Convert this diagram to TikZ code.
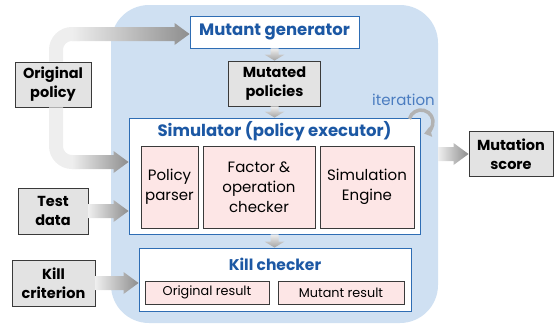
\documentclass[tikz,border=0pt]{standalone}
\usepackage{fontspec}
\setmainfont{Poppins}
\usetikzlibrary{calc,arrows.meta}

\definecolor{panelblue}{HTML}{CFE0F2}
\definecolor{edgeblue}{HTML}{2E6DB4}
\definecolor{titleblue}{HTML}{1C58A4}
\definecolor{iterblue}{HTML}{4A7CC0}
\definecolor{graybg}{HTML}{E3E3E3}
\definecolor{pinkbg}{HTML}{FDE6E6}
\definecolor{boxedge}{HTML}{3A3A3A}
\definecolor{arlight}{HTML}{EEEEEE}
\definecolor{ardark}{HTML}{8E8E8E}

\tikzset{
  graybox/.style={draw=boxedge, fill=graybg, line width=0.9pt, inner sep=0pt,
    align=center, text=black, font=\bfseries\fontsize{14.5}{19}\selectfont},
  bluebox/.style={draw=edgeblue, fill=white, line width=0.9pt, inner sep=0pt},
  pinkbox/.style={draw=boxedge, fill=pinkbg, line width=0.8pt, inner sep=0pt,
    align=center, text=black, font=\fontsize{15}{20}\selectfont},
  boxtitle/.style={text=titleblue, inner sep=0pt, font=\bfseries\fontsize{16.5}{18}\selectfont},
}

% horizontal block arrow, light at the tail and dark at the head
\newcommand\harrow[2]{%
  \path[left color=arlight, right color=ardark] let \p1=(#1), \p2=(#2) in
    (\x1,\y1+7pt) -- (\x2-15pt,\y1+7pt) -- (\x2-15pt,\y1+11pt) -- (\x2,\y1)
    -- (\x2-15pt,\y1-11pt) -- (\x2-15pt,\y1-7pt) -- (\x1,\y1-7pt) -- cycle;}
% small downward arrow between stacked boxes
\newcommand\varrow[2]{%
  \path[top color=arlight, bottom color=ardark!80] let \p1=(#1), \p2=(#2) in
    (\x1-4pt,\y1) -- (\x1-4pt,\y2+6pt) -- (\x1-10pt,\y2+6pt) -- (\x1,\y2)
    -- (\x1+10pt,\y2+6pt) -- (\x1+4pt,\y2+6pt) -- (\x1+4pt,\y1) -- cycle;}

\begin{document}
\begin{tikzpicture}[x=1pt, y=-1pt]
\useasboundingbox (0,0) rectangle (559,325);

% blue panel holding the test machinery
\node[fill=panelblue, rounded corners=38pt, inner sep=0pt,
      minimum width=327pt, minimum height=318pt] (panel) at (274.5,164) {};

% inputs and output
\node[graybox, minimum width=76pt, minimum height=45pt] (op) at (53,84.5) {Original\\policy};
\node[graybox, minimum width=70pt, minimum height=46pt] (td) at (53,211) {Test\\data};
\node[graybox, minimum width=83pt, minimum height=46pt] (kc) at (53.5,283) {Kill\\criterion};
\node[graybox, minimum width=84pt, minimum height=45pt] (ms) at (511,154) {Mutation\\score};

% mutant generation
\node[bluebox, minimum width=169pt, minimum height=32pt, boxtitle] (gen) at (274.5,32) {Mutant generator};
\node[graybox, minimum width=92pt, minimum height=45pt] (mut) at (274.5,83.5) {Mutated\\policies};

% simulator
\node[bluebox, minimum width=291pt, minimum height=116pt] (sim) at (274.5,176) {};
\node[boxtitle] (simt) at ($(sim.north)+(0,13.5)$) {Simulator (policy executor)};
\node[pinkbox, minimum width=57pt, minimum height=82pt] (pp) at (169.5,187) {Policy\\parser};
\node[pinkbox, minimum width=112pt, minimum height=82pt] (foc) at (259,187) {Factor \&\\operation\\checker};
\node[pinkbox, minimum width=94pt, minimum height=82pt] (se) at (367,187) {Simulation\\Engine};

% kill checker
\node[bluebox, minimum width=272pt, minimum height=63pt] (kill) at (275,279.5) {};
\node[boxtitle, font=\bfseries\fontsize{15.5}{18}\selectfont] (killt) at ($(kill.north)+(0,16.5)$) {Kill checker};
\node[pinkbox, font=\fontsize{12.8}{15}\selectfont, minimum width=124pt, minimum height=23pt] (orr) at (207,292.5) {Original result};
\node[pinkbox, font=\fontsize{12.8}{15}\selectfont, minimum width=126pt, minimum height=23pt] (mr) at (341,292.5) {Mutant result};

% original policy feeds both the generator and the simulator
\coordinate (optop) at ([xshift=3pt]op.north);
\coordinate (opbot) at ([xshift=3pt]op.south);
\coordinate (up) at (56,34);
\coordinate (dn) at (56,162);
\draw[line width=14pt, arlight, rounded corners=16pt] (optop) -- (up) -- (80,34);
\draw[line width=14pt, arlight, rounded corners=16pt] (opbot) -- (dn) -- (80,162);
\harrow{$(up)+(16,0)$}{gen.west |- up}
\harrow{$(dn)+(16,0)$}{sim.west |- dn}

% remaining inputs and the output
\harrow{td.east}{sim.west |- td.east}
\harrow{kc.east}{kill.west |- kc.east}
\harrow{panel.east |- ms.west}{ms.west}

% flow inside the panel
\varrow{gen.south}{gen.south |- mut.north}
\varrow{mut.south}{mut.south |- sim.north}
\varrow{sim.south}{sim.south |- kill.north}

% iteration loop
\node[text=iterblue, inner sep=0pt, font=\fontsize{15}{16}\selectfont] (itl) at (403.5,100) {iteration};
\coordinate (loopc) at (421,122);
\draw[line width=3.5pt, gray!60, -{Triangle[width=10pt,length=7pt]}]
  ($(loopc)+(-165:12)$) arc[start angle=-165, end angle=75, radius=12];
\end{tikzpicture}
\end{document}
